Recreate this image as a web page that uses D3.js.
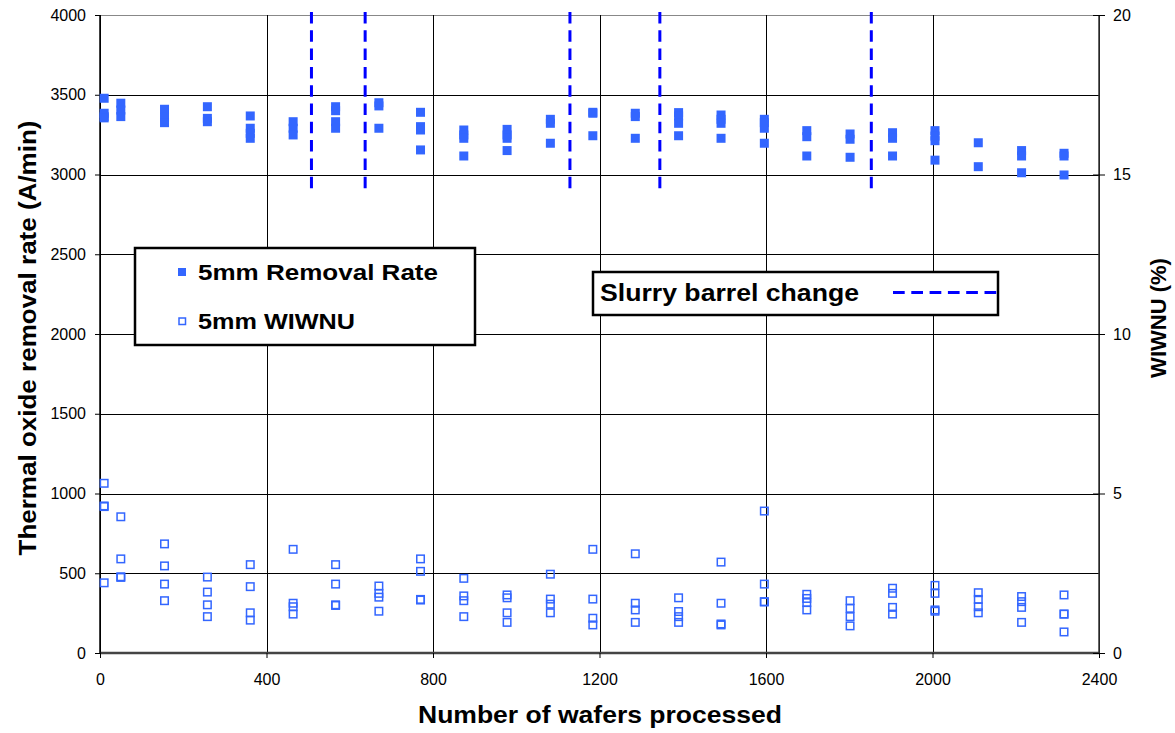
<!DOCTYPE html>
<html><head><meta charset="utf-8">
<script src="https://cdn.jsdelivr.net/npm/d3@7"></script>
<style>body{margin:0;background:#fff}svg{display:block}text{font-family:"Liberation Sans",Arial,sans-serif}</style>
</head><body><svg id="c" width="1175" height="733"></svg>
<script>
const waferGroups = [10, 50, 155, 258, 361, 464, 566, 670, 770, 874, 978, 1082, 1184, 1286, 1390, 1492, 1596, 1698, 1802, 1904, 2006, 2110, 2214, 2316];
const removalRate = [
 [3478,3384,3363,3355],[3447,3404,3363],[3409,3359,3325],[3425,3352,3331],
 [3367,3290,3258,3227],[3331,3290,3248],[3425,3400,3331,3290],[3450,3430,3290],
 [3390,3300,3279,3154],[3279,3248,3227,3116],[3283,3248,3227,3150],[3346,3321,3196],
 [3390,3384,3243],[3384,3363,3227],[3388,3367,3321,3243],[3373,3346,3321,3227],
 [3346,3325,3290,3196],[3275,3237,3116],[3254,3221,3108],[3262,3227,3116],
 [3275,3241,3212,3090],[3199,3049],[3150,3116,3011],[3133,3116,2997]
];
const wiwnu = [
 [5.32,4.61,4.59,2.20],[4.27,2.95,2.39,2.37],[3.42,2.73,2.16,1.64],[2.38,1.91,1.51,1.14],
 [2.77,2.08,1.26,1.03],[3.25,1.56,1.45,1.22],[2.77,2.16,1.51,1.49],[2.10,1.87,1.75,1.31],
 [2.95,2.56,1.68,1.66],[2.34,1.79,1.64,1.14],[1.82,1.73,1.26,0.96],[2.47,1.69,1.53,1.26],
 [3.25,1.69,1.09,0.88],[3.11,1.56,1.35,0.96],[1.73,1.30,1.14,0.96],[2.85,1.56,0.91,0.88],
 [4.45,2.16,1.61,1.60],[1.84,1.71,1.58,1.35],[1.64,1.40,1.14,0.85],[2.03,1.87,1.43,1.22],
 [2.12,1.87,1.35,1.31],[1.89,1.68,1.45,1.26],[1.77,1.61,1.43,0.96],[1.82,1.22,1.22,0.66]
];
const slurryChanges = [508, 637, 1129, 1345, 1853];
const slurryRange = [2880, 4000];
const xTicks = [0, 400, 800, 1200, 1600, 2000, 2400];
const yTicks = [0, 500, 1000, 1500, 2000, 2500, 3000, 3500, 4000];
const y2Ticks = [0, 5, 10, 15, 20];
const labels = {
  x: "Number of wafers processed",
  y: "Thermal oxide removal rate (A/min)",
  y2: "WIWNU (%)",
  rr: "5mm Removal Rate",
  wi: "5mm WIWNU",
  slurry: "Slurry barrel change"
};

const L = 100, R = 1099, T = 15, B = 653;
const blue = "#3366ff";
const svg = d3.select("#c");
svg.append("rect").attr("width",1175).attr("height",733).attr("fill","#fff");
const x = d3.scaleLinear().domain([0,2400]).range([L,R]);
const y = d3.scaleLinear().domain([0,4000]).range([B,T]);
const y2 = d3.scaleLinear().domain([0,20]).range([B,T]);

// grid
const g = svg.append("g");
g.selectAll(".hg").data(yTicks).join("line")
  .attr("x1",L).attr("x2",R).attr("y1",d=>Math.round(y(d))+0.5).attr("y2",d=>Math.round(y(d))+0.5)
  .attr("stroke",d=>d===4000?"#888":"#000").attr("stroke-width",1);
g.selectAll(".vg").data(xTicks).join("line")
  .attr("y1",T).attr("y2",B).attr("x1",d=>Math.round(x(d))+0.5).attr("x2",d=>Math.round(x(d))+0.5)
  .attr("stroke","#000").attr("stroke-width",1);
svg.append("line").attr("x1",L).attr("x2",R).attr("y1",B).attr("y2",B).attr("stroke","#444").attr("stroke-width",2.5);
svg.append("line").attr("x1",L).attr("x2",L).attr("y1",T).attr("y2",B).attr("stroke","#000").attr("stroke-width",1.5);
svg.append("line").attr("x1",R).attr("x2",R).attr("y1",T).attr("y2",B).attr("stroke","#333").attr("stroke-width",1.5);

// axes
const ax = svg.append("g").attr("transform",`translate(0,${B})`)
  .call(d3.axisBottom(x).tickValues(xTicks).tickFormat(d3.format("d")).tickSize(5).tickSizeOuter(0).tickPadding(16));
const ay = svg.append("g").attr("transform",`translate(${L},0)`)
  .call(d3.axisLeft(y).tickValues(yTicks).tickFormat(d3.format("d")).tickSize(5).tickSizeOuter(0).tickPadding(9));
const ay2 = svg.append("g").attr("transform",`translate(${R},0)`)
  .call(d3.axisRight(y2).tickValues(y2Ticks).tickFormat(d3.format("d")).tickSize(6).tickSizeOuter(0).tickPadding(8));
[ax,ay,ay2].forEach(a=>{
  a.select(".domain").remove();
  a.selectAll("text").attr("font-size",16).attr("fill","#000").style("font-family","'Liberation Sans',Arial,sans-serif");
  a.selectAll("line").attr("stroke","#000");
});
ay2.selectAll(".tick line").attr("x1",-6);

// slurry lines
svg.append("g").selectAll("line").data(slurryChanges).join("line")
  .attr("x1",d=>x(d)).attr("x2",d=>x(d)).attr("y1",y(slurryRange[1])-3).attr("y2",y(slurryRange[0]))
  .attr("stroke","#0000ff").attr("stroke-width",3).attr("stroke-dasharray","11.5,6.8");

// points
const rrPts = [], wiPts = [];
waferGroups.forEach((w,i)=>{
  removalRate[i].forEach(v=>rrPts.push([w,v]));
  wiwnu[i].forEach(v=>wiPts.push([w,v]));
});
svg.append("g").selectAll("rect").data(wiPts).join("rect")
  .attr("x",d=>x(d[0])-3.75).attr("y",d=>y2(d[1])-3.75).attr("width",7.5).attr("height",7.5)
  .attr("fill","none").attr("stroke",blue).attr("stroke-width",1.5);
svg.append("g").selectAll("rect").data(rrPts).join("rect")
  .attr("x",d=>x(d[0])-4.5).attr("y",d=>y(d[1])-4.5).attr("width",9).attr("height",9)
  .attr("fill",blue);

// legend 1
const lg = svg.append("g");
lg.append("rect").attr("x",135).attr("y",248).attr("width",340).attr("height",97)
  .attr("fill","#fff").attr("stroke","#000").attr("stroke-width",2.5);
lg.append("rect").attr("x",178).attr("y",268).attr("width",8).attr("height",8).attr("fill",blue);
lg.append("rect").attr("x",179).attr("y",318).attr("width",6.5).attr("height",6.5).attr("fill","none").attr("stroke",blue).attr("stroke-width",1.5);
lg.append("text").attr("x",198).attr("y",280).attr("font-size",22).attr("font-weight","bold")
  .attr("textLength",240).attr("lengthAdjust","spacingAndGlyphs").text(labels.rr);
lg.append("text").attr("x",198).attr("y",329).attr("font-size",22).attr("font-weight","bold")
  .attr("textLength",157).attr("lengthAdjust","spacingAndGlyphs").text(labels.wi);

// legend 2
const lg2 = svg.append("g");
lg2.append("rect").attr("x",593).attr("y",272).attr("width",405).attr("height",43)
  .attr("fill","#fff").attr("stroke","#000").attr("stroke-width",2.5);
lg2.append("text").attr("x",600).attr("y",300.5).attr("font-size",23).attr("font-weight","bold")
  .attr("textLength",259).attr("lengthAdjust","spacingAndGlyphs").text(labels.slurry);
lg2.append("line").attr("x1",893).attr("x2",997).attr("y1",292.5).attr("y2",292.5)
  .attr("stroke","#0000ff").attr("stroke-width",3).attr("stroke-dasharray","11.7,6.6");

// titles
svg.append("text").attr("x",600).attr("y",723).attr("text-anchor","middle").attr("font-size",23).attr("font-weight","bold")
  .attr("textLength",364).attr("lengthAdjust","spacingAndGlyphs").text(labels.x);
svg.append("text").attr("transform","translate(36,338) rotate(-90)").attr("text-anchor","middle").attr("font-size",24).attr("font-weight","bold")
  .attr("textLength",435).attr("lengthAdjust","spacingAndGlyphs").text(labels.y);
svg.append("text").attr("transform","translate(1166,318) rotate(-90)").attr("text-anchor","middle").attr("font-size",22).attr("font-weight","bold")
  .text(labels.y2);
</script></body></html>
